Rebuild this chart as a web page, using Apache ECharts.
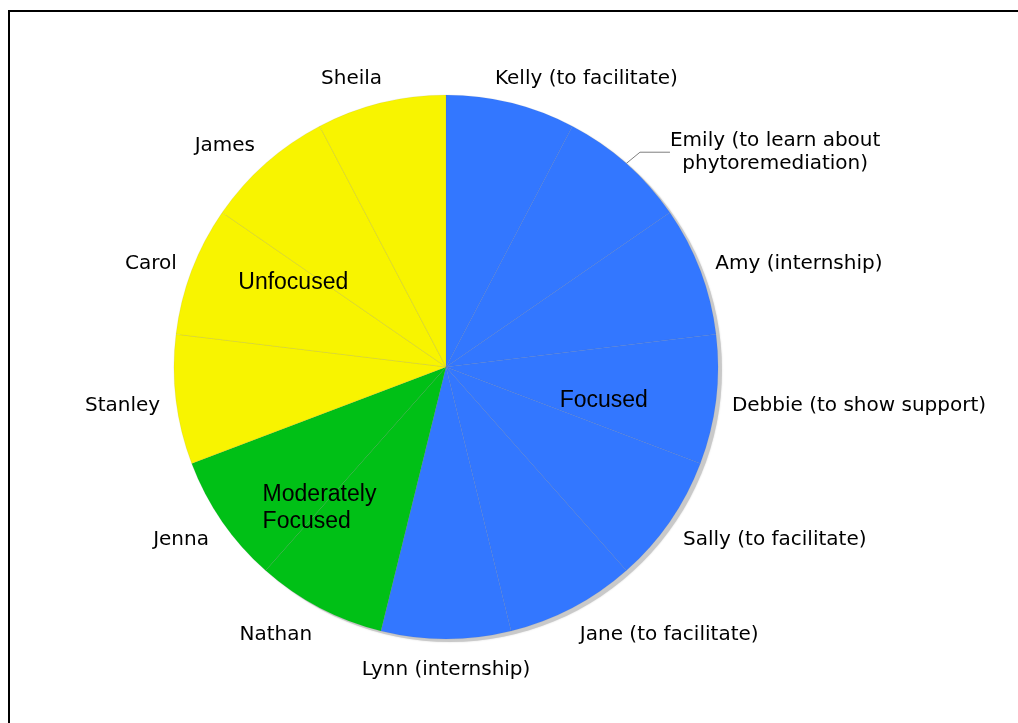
<!DOCTYPE html>
<html>
<head>
<meta charset="utf-8">
<script src="https://cdn.jsdelivr.net/npm/echarts@6/dist/echarts.min.js"></script>
<style>
  html, body { margin: 0; padding: 0; background: #ffffff; }
  #chart { width: 1018px; height: 723px; }
</style>
</head>
<body>
<div id="chart"></div>
<script>
// Who attended, and how focused their reason for coming was
const people = [
  'Kelly (to facilitate)',
  'Emily (to learn about\nphytoremediation)',
  'Amy (internship)',
  'Debbie (to show support)',
  'Sally (to facilitate)',
  'Jane (to facilitate)',
  'Lynn (internship)',
  'Nathan',
  'Jenna',
  'Stanley',
  'Carol',
  'James',
  'Sheila'
];
const shares = [1, 1, 1, 1, 1, 1, 1, 1, 1, 1, 1, 1, 1];
const personGroup = [
  'Focused', 'Focused', 'Focused', 'Focused', 'Focused', 'Focused', 'Focused',
  'Moderately Focused', 'Moderately Focused',
  'Unfocused', 'Unfocused', 'Unfocused', 'Unfocused'
];
const groups = ['Focused', 'Moderately Focused', 'Unfocused'];
const groupColors = ['#3377FF', '#00C016', '#F8F400'];

// Layout
const PIE_CENTER = [446, 367];
const PIE_RADIUS = 272;
const LABEL_GAP = 16;
const LABEL_DROP = 3;
const SHADOW_SHIFT = [4, 3];
// Hand-placed exceptions: Kelly sits a little left, Emily's two-line label
// is pushed further out and tied back with a leader line
const labelNudge = { 0: [-20, 0], 1: [33, 15], 12: [5, 0] };

const total = shares.reduce((a, b) => a + b, 0);
const midAngles = [];
let acc = 0;
shares.forEach(v => { midAngles.push((acc + v / 2) / total * 2 * Math.PI); acc += v; });

const groupValues = groups.map(g =>
  shares.reduce((s, v, i) => (personGroup[i] === g ? s + v : s), 0));

const chart = echarts.init(document.getElementById('chart'), null, { renderer: 'canvas' });

chart.setOption({
  animation: false,
  backgroundColor: '#ffffff',
  graphic: [{
    type: 'rect',
    silent: true,
    shape: { x: 9, y: 11, width: 1200, height: 1000 },
    style: { fill: 'none', stroke: '#000000', lineWidth: 2 }
  }],
  series: [
    {
      // drop shadow under the pie
      type: 'pie',
      silent: true,
      center: [PIE_CENTER[0] + SHADOW_SHIFT[0], PIE_CENTER[1] + SHADOW_SHIFT[1]],
      radius: PIE_RADIUS,
      label: { show: false },
      labelLine: { show: false },
      itemStyle: { color: '#c9c9c9', shadowColor: 'rgba(0,0,0,0.15)', shadowBlur: 2 },
      data: [{ value: total, name: '' }],
      z: 1
    },
    {
      type: 'pie',
      center: PIE_CENTER,
      radius: PIE_RADIUS,
      startAngle: 90,
      clockwise: true,
      avoidLabelOverlap: false,
      emphasis: { disabled: true },
      itemStyle: { borderColor: 'rgba(110,110,110,0.1)', borderWidth: 1 },
      label: {
        show: true,
        position: 'outside',
        color: '#000000',
        fontFamily: 'DejaVu Sans',
        fontSize: 20,
        lineHeight: 23
      },
      labelLine: { show: false, lineStyle: { color: '#7f7f7f', width: 1 } },
      labelLayout: function (p) {
        const a = midAngles[p.dataIndex];
        const s = Math.sin(a), c = Math.cos(a);
        const rr = PIE_RADIUS + LABEL_GAP;
        const w = p.labelRect.width, h = p.labelRect.height;
        const side = Math.abs(s) < 0.05 ? 0 : Math.sign(s);
        let x = PIE_CENTER[0] + rr * s + side * w / 2;
        let y = PIE_CENTER[1] - rr * c - c * h / 2 + LABEL_DROP;
        const n = labelNudge[p.dataIndex];
        if (n) { x += n[0]; y += n[1]; }
        return { x: x, y: y, align: 'center', verticalAlign: 'middle' };
      },
      data: people.map((name, i) => {
        const item = {
          name: name,
          value: shares[i],
          itemStyle: { color: groupColors[groups.indexOf(personGroup[i])] }
        };
        if (i === 1) item.labelLine = { show: true };
        return item;
      }),
      z: 2
    },
    {
      // group names written inside their wedges
      type: 'pie',
      silent: true,
      center: PIE_CENTER,
      radius: [64, PIE_RADIUS],
      startAngle: 90,
      clockwise: true,
      itemStyle: { color: 'rgba(0,0,0,0)', borderWidth: 0 },
      label: {
        show: true,
        position: 'inside',
        offset: [-12, 13],
        color: '#000000',
        fontFamily: 'Liberation Sans',
        fontSize: 23,
        lineHeight: 27,
        formatter: function (p) {
          if (p.name.indexOf(' ') < 0) return p.name;
          return p.name.split(' ').map(w => '{g|' + w + '}').join('\n');
        },
        rich: {
          g: { width: 116, align: 'left', fontFamily: 'Liberation Sans', fontSize: 23, lineHeight: 27, color: '#000000' }
        }
      },
      labelLine: { show: false },
      data: groups.map((g, i) => ({ name: g, value: groupValues[i] })),
      z: 3
    }
  ]
});
</script>
</body>
</html>
